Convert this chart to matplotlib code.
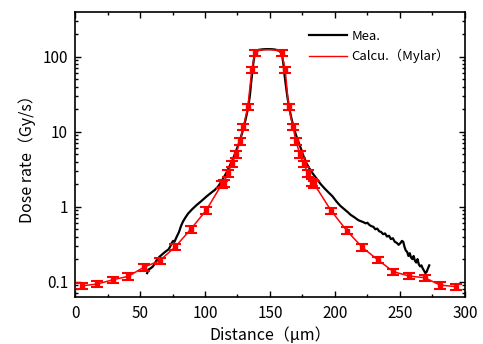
import matplotlib
matplotlib.use("Agg")
import matplotlib.pyplot as plt
import numpy as np
from matplotlib.lines import Line2D
from matplotlib.ticker import MultipleLocator, LogLocator, NullFormatter, FixedFormatter, FixedLocator

plt.rcParams["font.family"] = ["Noto Sans CJK JP", "DejaVu Sans"]

# measured dose-rate profile (black)
mea_x = [55.5, 56.5, 58, 60, 62.5, 65, 67.5, 70, 72, 73.5, 74.5, 75.5, 76.5, 78, 80,
         81.5, 83, 85, 87, 90, 93.5, 97, 101, 104, 107.5, 110, 112.5, 115, 117, 119,
         121.5, 124, 126.5, 129, 131, 133, 134.5, 135.5, 136.5, 137.5, 138.5, 139.5,
         141, 144, 147, 150, 153, 156, 158, 159.3, 160.3, 161.3, 162.3, 163.5, 165,
         166.5, 168, 170, 172, 174, 176, 178, 180.5, 183, 186, 189, 192, 195, 198,
         201, 204, 207, 210, 212, 214, 216, 218, 220, 222, 223.5, 225, 226.5, 228,
         229.5, 231, 232.5, 234, 235.5, 237, 238.5, 240, 241.5, 243, 244.5, 246,
         247.5, 249, 250.5, 251.5, 252.5, 253.5, 254.5, 255.5, 256.5, 257.5, 258.5,
         259.5, 260.5, 261.5, 262.5, 263.5, 264.5, 265.5, 266.5, 267.5, 268.5,
         269.5, 270.5, 271.5, 272.5]
mea_y = [0.13, 0.145, 0.15, 0.16, 0.19, 0.215, 0.235, 0.255, 0.27, 0.30, 0.33, 0.35,
         0.34, 0.39, 0.46, 0.55, 0.63, 0.72, 0.81, 0.92, 1.05, 1.18, 1.36, 1.50, 1.67,
         1.85, 2.15, 2.55, 2.95, 3.5, 4.3, 5.6, 7.3, 10.2, 14, 20, 30, 45, 65, 90, 112,
         120, 123, 125, 126, 126, 125, 122, 117, 105, 80, 55, 40, 28, 20, 15, 11.8,
         9.0, 7.2, 5.8, 4.6, 3.8, 3.2, 2.75, 2.35, 2.0, 1.75, 1.55, 1.38, 1.18, 1.03,
         0.93, 0.84, 0.78, 0.74, 0.70, 0.66, 0.64, 0.62, 0.60, 0.61, 0.57, 0.55,
         0.54, 0.50, 0.51, 0.47, 0.46, 0.43, 0.44, 0.40, 0.41, 0.37, 0.38, 0.34,
         0.33, 0.31, 0.33, 0.35, 0.34, 0.29, 0.26, 0.25, 0.22, 0.24, 0.21, 0.20,
         0.22, 0.19, 0.18, 0.20, 0.17, 0.16, 0.165, 0.15, 0.14, 0.13, 0.135, 0.15,
         0.165]

# calculated profile (red); plateau points carry no marker
calc_x = [5, 17, 29, 41, 53, 65, 77, 89, 101, 113, 114.5, 117.5, 120.5, 123.8, 126.8,
          129.5, 133, 136, 138.5, 141, 144, 147, 150, 153, 156, 159, 161.7, 164.3,
          167.7, 170, 173, 175.8, 179.3, 182.3, 184, 197, 209, 221, 233, 245, 257,
          269, 281, 293]
calc_y = [0.088, 0.093, 0.106, 0.118, 0.156, 0.19, 0.29, 0.50, 0.90, 2.0, 2.05, 2.8,
          3.7, 5.0, 7.4, 11.6, 21.5, 67, 112, 120, 123, 124, 124, 123, 120, 112, 67,
          21.5, 11.6, 7.4, 5.0, 3.7, 2.8, 2.1, 2.0, 0.885, 0.48, 0.287, 0.195, 0.136,
          0.119, 0.113, 0.090, 0.086]
calc_marked = [x not in (141, 144, 147, 150, 153, 156) for x in calc_x]
calc_err = 0.10  # relative error bar

fig = plt.figure(figsize=(4.83, 3.44), dpi=100)
ax = fig.add_axes([0.1553, 0.1366, 0.8074, 0.8271])

ax.plot(mea_x, mea_y, color="black", lw=1.6, zorder=2)
cy = np.array(calc_y)
ax.errorbar(calc_x, cy, yerr=calc_err * cy, color="red", lw=1.1,
            marker="s", ms=2.2, markevery=calc_marked, errorevery=np.array(calc_marked),
            capsize=4.5, capthick=1.5, elinewidth=1.2, zorder=3)

ax.set_yscale("log")
ax.set_xlim(0, 300)
ax.set_ylim(0.0625, 388)

ax.xaxis.set_major_locator(MultipleLocator(50))
ax.xaxis.set_minor_locator(MultipleLocator(25))
ax.yaxis.set_major_locator(FixedLocator([0.1, 1, 10, 100]))
ax.yaxis.set_major_formatter(FixedFormatter(["0.1", "1", "10", "100"]))
ax.yaxis.set_minor_locator(LogLocator(base=10, subs=np.arange(2, 10)))
ax.yaxis.set_minor_formatter(NullFormatter())

ax.tick_params(which="both", direction="in", top=True, right=True, labelsize=11,
               width=1.0)
ax.tick_params(which="major", length=4, pad=6)
ax.tick_params(which="minor", length=2.5)
ax.tick_params(axis="y", which="major", pad=5)
for s in ax.spines.values():
    s.set_linewidth(1.2)

ax.set_xlabel("Distance（μm）", fontsize=11.5, labelpad=3)
ax.set_ylabel("Dose rate（Gy/s）", fontsize=11.5, labelpad=5)

handles = [Line2D([], [], color="black", lw=1.6),
           Line2D([], [], color="red", lw=1.0)]
ax.legend(handles, ["Mea.", "Calcu.（Mylar）"], loc="upper left",
          bbox_to_anchor=(0.6, 0.94), frameon=False, fontsize=9.5,
          handlelength=2.9, handletextpad=0.3, borderpad=0, borderaxespad=0,
          labelspacing=0.5)

fig.savefig("out.png", dpi=100)
